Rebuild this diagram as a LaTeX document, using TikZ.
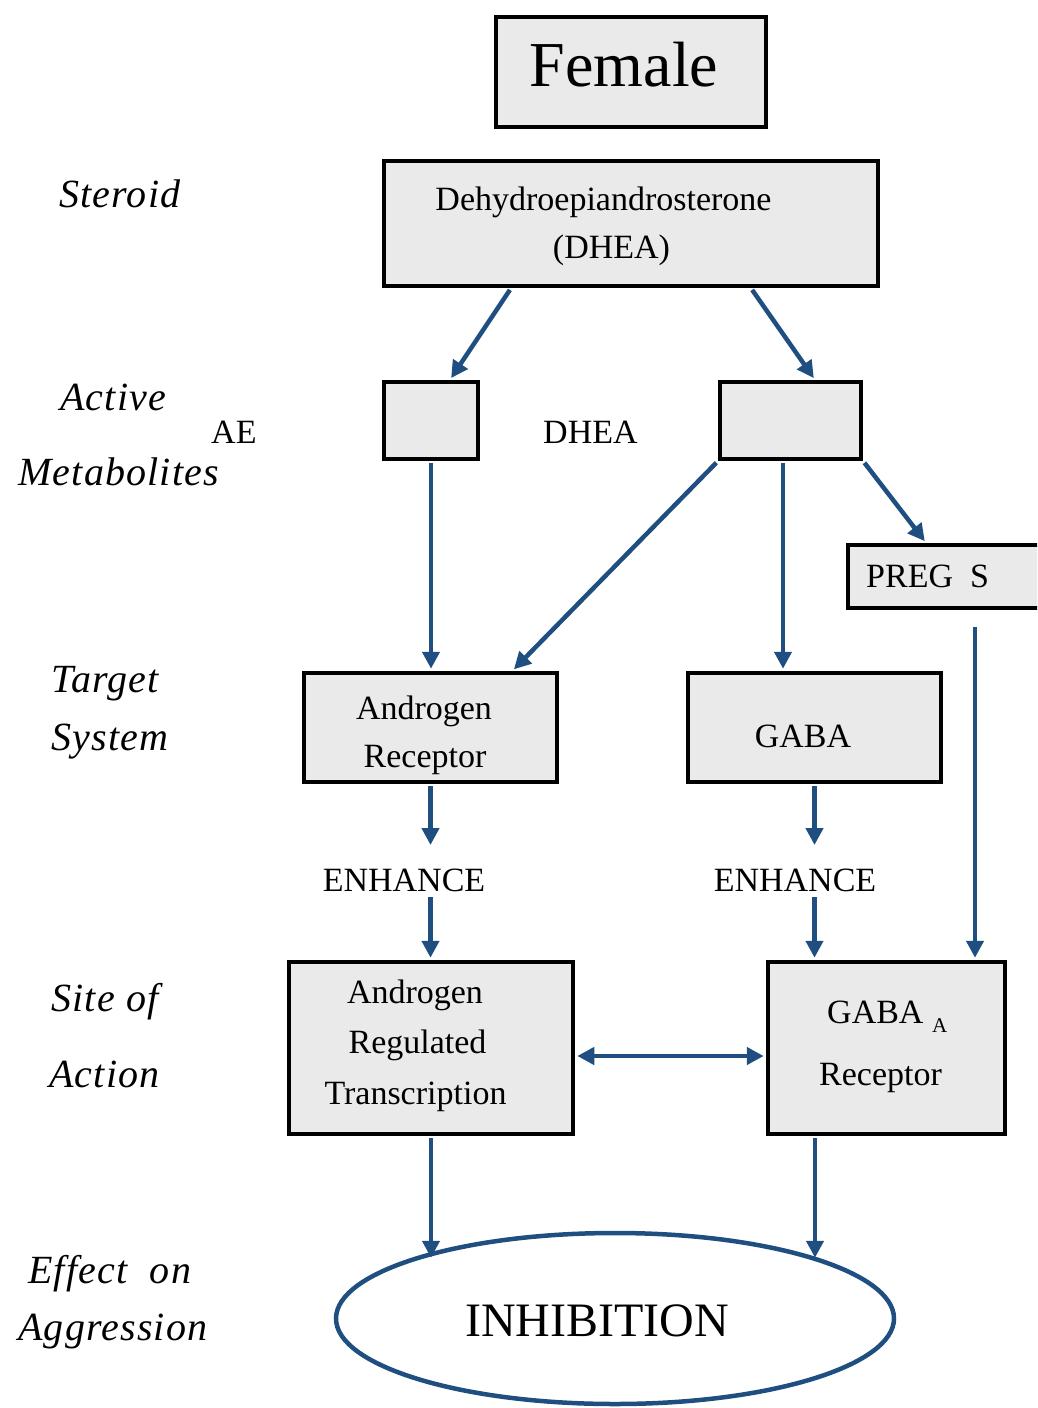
\documentclass[tikz,border=0pt]{standalone}
\usepackage{fontspec}
\setmainfont{Liberation Serif}
\newfontfamily\sidefont[LetterSpace=3]{Liberation Serif}
\usetikzlibrary{arrows.meta,shapes.geometric,calc}
\definecolor{linkblue}{RGB}{31,78,128}
\definecolor{boxfill}{RGB}{234,234,234}
\begin{document}
\begin{tikzpicture}[x=1pt,y=-1pt,
  box/.style={draw=black, line width=4.5pt, fill=boxfill, rectangle, inner sep=0pt},
  lbl/.style={anchor=base, inner sep=0pt, font=\fontsize{34}{40}\selectfont},
  lblw/.style={anchor=base west, inner sep=0pt, font=\fontsize{34}{40}\selectfont},
  side/.style={anchor=base west, inner sep=0pt, font=\fontsize{40}{48}\sidefont\itshape},
  arr/.style={draw=linkblue, line width=4.5pt, -{Triangle[length=17pt,width=17pt]},
    shorten >=2pt, shorten <=2pt},
  dblarr/.style={draw=linkblue, line width=4.5pt,
    {Triangle[length=17pt,width=17pt]}-{Triangle[length=17pt,width=17pt]},
    shorten >=2pt, shorten <=2pt}]
\useasboundingbox (0,0) rectangle (1037,1408);
\clip (0,0) rectangle (1037,1408);

% boxes
\node[box, minimum width=270pt, minimum height=110pt] (female) at (631,72) {};
\node[box, minimum width=494pt, minimum height=125pt] (dhea) at (631,223.5) {};
\node[box, minimum width=94pt, minimum height=77pt] (lmet) at (431,420.5) {};
\node[box, minimum width=141pt, minimum height=77pt] (rmet) at (790.5,420.5) {};
\node[box, minimum width=200pt, minimum height=63pt] (preg) at (948,576.5) {};
\node[box, minimum width=253pt, minimum height=109pt] (ar) at (430.5,727.5) {};
\node[box, minimum width=253pt, minimum height=109pt] (gaba) at (814.5,727.5) {};
\node[box, minimum width=284pt, minimum height=172pt] (art) at (431,1048) {};
\node[box, minimum width=237pt, minimum height=172pt] (gabaa) at (886.5,1048) {};
\node[draw=linkblue, line width=4.5pt, ellipse, inner sep=0pt,
      minimum width=558pt, minimum height=171pt] (inhib) at (615,1318.5) {};

% texts in and between the boxes
\node[lbl, font=\fontsize{64}{70}\selectfont] (femaleT) at (624,86) {Female};
\node[lbl] (dheaT1) at (603.5,210) {Dehydroepiandrosterone};
\node[lbl] (dheaT2) at (611.5,258) {(DHEA)};
\node[lblw] (aeT) at (211,443) {AE};
\node[lblw] (dheaMid) at (543,443) {DHEA};
\node[lblw] (pregT) at (866,587) {PREG\ \ S};
\node[lbl] (arT1) at (424,719) {Androgen};
\node[lbl] (arT2) at (425,767) {Receptor};
\node[lbl] (gabaT) at (803,747) {GABA};
\node[lbl] (enhL) at (404,891) {ENHANCE};
\node[lbl] (enhR) at (795,891) {ENHANCE};
\node[lbl] (artT1) at (415,1003) {Androgen};
\node[lbl] (artT2) at (417.5,1053) {Regulated};
\node[lbl] (artT3) at (415.5,1104) {Transcription};
\node[lblw] (gabaaT1) at (827,1023) {GABA \raisebox{-9pt}{\fontsize{21}{24}\selectfont A}};
\node[lbl] (gabaaT2) at (880.5,1085) {Receptor};
\node[lbl, font=\fontsize{48}{54}\selectfont] (inhibT) at (597,1336) {INHIBITION};

% row headings
\node[side] (sSteroid) at (59,207) {Steroid};
\node[side] (sActive) at (60,410) {Active};
\node[side] (sMetab) at (18,485) {Metabolites};
\node[side] (sTarget) at (51,692) {Target};
\node[side] (sSystem) at (51,750) {System};
\node[side] (sSite) at (51,1011) {Site of};
\node[side] (sAction) at (49,1087) {Action};
\node[side] (sEffect) at (28,1283) {Effect\ \ on};
\node[side] (sAggr) at (18,1340) {Aggression};

% connectors
\draw[arr] ([xshift=-120pt]dhea.south) -- ([xshift=19pt]lmet.north);
\draw[arr] ([xshift=120pt]dhea.south) -- ([xshift=24.5pt]rmet.north);
\draw[arr] (lmet.south) -- (lmet.south |- ar.north);
\draw[arr] (rmet.south west) -- ([xshift=82pt]ar.north);
\draw[arr] ([xshift=-7.5pt]rmet.south) -- ([xshift=-31.5pt]gaba.north);
\draw[arr] (rmet.south east) -- ([xshift=-22pt]preg.north);
\coordinate (pregdrop) at ($(preg.south)+(27,17)$);
\draw[arr, shorten <=0pt] (pregdrop) -- ([xshift=88.5pt]gabaa.north);

\draw[arr, shorten >=0pt] (ar.south) -- ($(ar.south |- enhL.base)+(0,-46)$);
\draw[arr, shorten <=0pt] ($(ar.south |- enhL.base)+(0,6)$) -- (ar.south |- art.north);
\draw[arr, shorten >=0pt] (gaba.south) -- ($(gaba.south |- enhR.base)+(0,-46)$);
\draw[arr, shorten <=0pt] ($(gaba.south |- enhR.base)+(0,6)$) -- (gaba.south |- gabaa.north);

\draw[dblarr] ([yshift=-8pt]art.east) -- ([yshift=-8pt]gabaa.west);

\draw[arr, shorten >=0pt] (art.south) -- ($(art.south |- inhib.north)+(0,27)$);
\draw[arr, shorten >=0pt] ([xshift=-71.5pt]gabaa.south) -- ($([xshift=-71.5pt]gabaa.south |- inhib.north)+(0,27)$);
\end{tikzpicture}
\end{document}
